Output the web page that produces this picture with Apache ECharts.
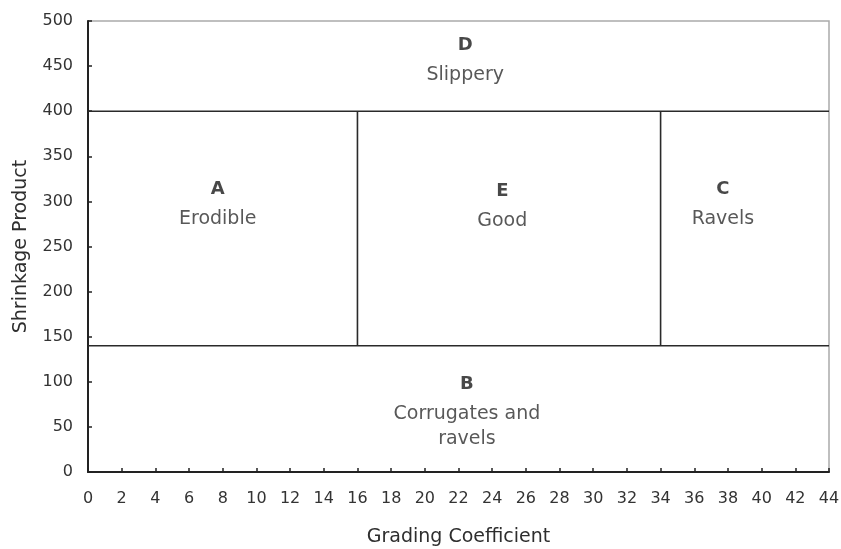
<!DOCTYPE html>
<html>
<head>
<meta charset="utf-8">
<script src="https://cdn.jsdelivr.net/npm/echarts@6/dist/echarts.min.js"></script>
<style>html,body{margin:0;padding:0;background:#fff;}#c{width:841px;height:549px;}</style>
</head>
<body>
<div id="c"></div>
<script>
// Axis ranges
var xMin = 0, xMax = 44, xStep = 2;
var yMin = 0, yMax = 500, yStep = 50;
// Region boundaries
var upperLimit = 400;      // shrinkage product upper boundary
var lowerLimit = 140;      // shrinkage product lower boundary
var leftLimit = 16;        // grading coefficient left boundary
var rightLimit = 34;       // grading coefficient right boundary
// Region labels
var regionLetters = ['D', 'A', 'E', 'C', 'B'];
var regionNames = ['Slippery', 'Erodible', 'Good', 'Ravels', 'Corrugates and\nravels'];
var regionX = [22.4, 7.7, 24.6, 37.7, 22.5];
var regionY = [459, 299, 297, 299, 69];

var FONT = 'DejaVu Sans';
var lineStyle = {color: '#2a2a2a', width: 1.6};
function seg(a, b) {
  return {type: 'line', data: [a, b], symbol: 'none', lineStyle: lineStyle, silent: true, z: 3};
}
var series = [
  seg([xMin, upperLimit], [xMax, upperLimit]),
  seg([xMin, lowerLimit], [xMax, lowerLimit]),
  seg([leftLimit, lowerLimit], [leftLimit, upperLimit]),
  seg([rightLimit, lowerLimit], [rightLimit, upperLimit])
];
var labelData = regionLetters.map(function (l, i) {
  return {value: [regionX[i], regionY[i]], name: l, desc: regionNames[i]};
});
series.push({
  type: 'scatter',
  symbolSize: 0,
  data: labelData,
  silent: true,
  label: {
    show: true,
    position: 'inside',
    formatter: function (p) {
      var lines = p.data.desc.split('\n').map(function (s) { return '{n|' + s + '}'; });
      return '{b|' + p.data.name + '}\n' + lines.join('\n');
    },
    rich: {
      b: {fontFamily: FONT, fontSize: 18, fontWeight: 'bold', color: '#1a1a1a', lineHeight: 34, align: 'center'},
      n: {fontFamily: FONT, fontSize: 19, color: '#2e2e2e', lineHeight: 25, align: 'center'}
    }
  }
});

var chart = echarts.init(document.getElementById('c'), null, {renderer: 'canvas'});
chart.setOption({
  animation: false,
  backgroundColor: '#fff',
  grid: {left: 88, right: 12, top: 21, bottom: 77, containLabel: false, outerBoundsMode: 'none',
         show: true, borderColor: '#aaa', borderWidth: 1.5, backgroundColor: 'transparent'},
  xAxis: {
    type: 'value', min: xMin, max: xMax, interval: xStep,
    name: 'Grading Coefficient', nameLocation: 'middle', nameGap: 56,
    nameTextStyle: {fontFamily: FONT, fontSize: 19, color: '#2e2e2e'},
    axisLine: {show: true, onZero: false, lineStyle: {color: '#222', width: 2}},
    axisTick: {show: true, inside: true, length: 4, lineStyle: {color: '#222', width: 1.5}},
    axisLabel: {fontFamily: FONT, fontSize: 16, color: '#333', margin: 19},
    splitLine: {show: false}
  },
  yAxis: {
    type: 'value', min: yMin, max: yMax, interval: yStep,
    name: 'Shrinkage Product', nameLocation: 'middle', nameGap: 57, nameRotate: 90,
    nameTextStyle: {fontFamily: FONT, fontSize: 19, color: '#2e2e2e'},
    axisLine: {show: true, onZero: false, lineStyle: {color: '#222', width: 2}},
    axisTick: {show: true, inside: true, length: 4, lineStyle: {color: '#222', width: 1.5}},
    axisLabel: {fontFamily: FONT, fontSize: 16, color: '#333', margin: 15},
    splitLine: {show: false}
  },
  series: series
});
</script>
</body>
</html>
